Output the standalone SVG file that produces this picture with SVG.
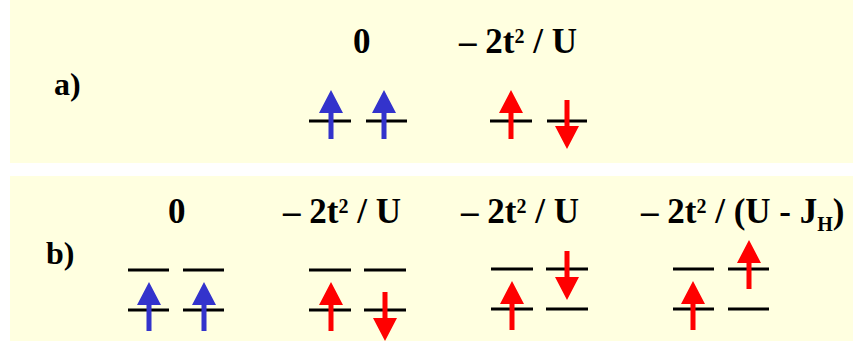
<svg xmlns="http://www.w3.org/2000/svg" xmlns:xlink="http://www.w3.org/1999/xlink" width="853" height="344" viewBox="0 0 853 344">
<style>
.bg{fill:#FFFFE0}
.t{font-family:'Liberation Serif','DejaVu Serif',serif;font-weight:700;font-size:35px;fill:#000}
.lbl{font-family:'Liberation Serif','DejaVu Serif',serif;font-weight:700;font-size:32px;fill:#000}
.lv{stroke:#000;stroke-width:3;fill:none}
.blue{fill:#3333CC}
.red{fill:#FF0000}
</style>
<defs>
<polygon id="up" points="0,0 12,23 2.5,23 2.5,49 -2.5,49 -2.5,23 -12,23"/>
<polygon id="dn" points="0,0 12,-23 2.5,-23 2.5,-49 -2.5,-49 -2.5,-23 -12,-23"/>
</defs>
<rect class="bg" x="10" y="0" width="843" height="163"/>
<rect class="bg" x="10" y="176" width="843" height="165"/>

<g id="panel-a-label"><text class="lbl" font-family="Liberation Serif, serif" x="54" y="95">a)</text></g>
<g id="a1">
<text class="t" font-family="Liberation Serif, serif" x="353" y="53">0</text>
<path class="lv" d="M309 121H351M366 121H407"/>
<use xlink:href="#up" class="blue" x="331" y="90"/>
<use xlink:href="#up" class="blue" x="384" y="90"/>
</g>
<g id="a2">
<text class="t" font-family="Liberation Serif, serif" x="459" y="53">– 2t<tspan font-size="20" dy="-10">2</tspan><tspan dy="10"> / U</tspan></text>
<path class="lv" d="M490 121H532M547 121H587"/>
<use xlink:href="#up" class="red" x="511" y="90"/>
<use xlink:href="#dn" class="red" x="567" y="149"/>
</g>

<g id="panel-b-label"><text class="lbl" font-family="Liberation Serif, serif" x="46" y="264">b)</text></g>
<g id="b1">
<text class="t" font-family="Liberation Serif, serif" x="168" y="223">0</text>
<path class="lv" d="M128 270H169M183 270H224M128 310H169M183 310H224"/>
<use xlink:href="#up" class="blue" x="149" y="282"/>
<use xlink:href="#up" class="blue" x="204" y="282"/>
</g>
<g id="b2">
<text class="t" font-family="Liberation Serif, serif" x="283" y="223">– 2t<tspan font-size="20" dy="-10">2</tspan><tspan dy="10"> / U</tspan></text>
<path class="lv" d="M309 270H351M364 270H406M309 310H351M364 310H406"/>
<use xlink:href="#up" class="red" x="331" y="282"/>
<use xlink:href="#dn" class="red" x="385" y="341"/>
</g>
<g id="b3">
<text class="t" font-family="Liberation Serif, serif" x="461" y="223">– 2t<tspan font-size="20" dy="-10">2</tspan><tspan dy="10"> / U</tspan></text>
<path class="lv" d="M491 269H533M546 269H588M491 309H533M546 309H588"/>
<use xlink:href="#up" class="red" x="512" y="281"/>
<use xlink:href="#dn" class="red" x="567" y="300"/>
</g>
<g id="b4">
<text class="t" font-family="Liberation Serif, serif" x="641" y="223">– 2t<tspan font-size="20" dy="-10">2</tspan><tspan dy="10"> / (U - J</tspan><tspan font-size="20" dy="8">H</tspan><tspan dy="-8">)</tspan></text>
<path class="lv" d="M673 269H714M728 269H769M673 309H714M728 309H769"/>
<use xlink:href="#up" class="red" x="693" y="281"/>
<use xlink:href="#up" class="red" x="749" y="240"/>
</g>
</svg>
